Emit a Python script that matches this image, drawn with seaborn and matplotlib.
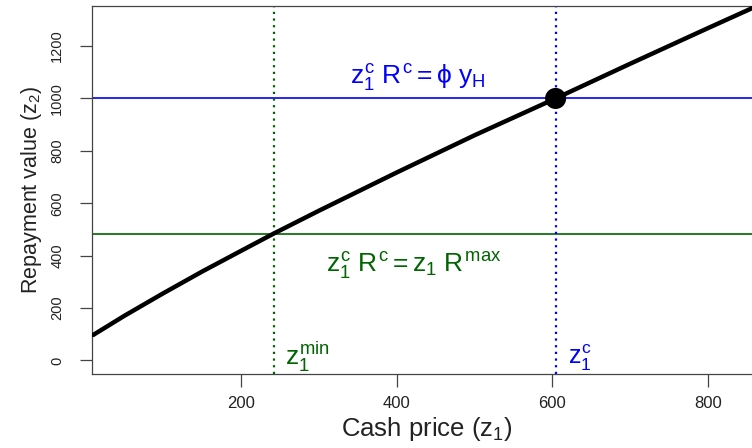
import matplotlib
matplotlib.use("Agg")
import matplotlib.pyplot as plt
import seaborn as sns
import pandas as pd

# Repayment curve: cash price z1 against repayment value z2
cash_price = [10, 50, 100, 150, 200, 242, 300, 400, 500, 604.5, 700, 800, 870]
repayment = [97, 170, 256, 339, 418, 484, 571, 717, 859, 1000, 1132, 1268, 1362]

# Reference levels
z1_min = 242
z1_c = 604.5
repay_max_level = 484   # z1^c R^c = z1 R^max
repay_phi_level = 1000  # z1^c R^c = phi y_H

x_ticks = [200, 400, 600, 800]
y_ticks = [0, 200, 400, 600, 800, 1000, 1200]

BLUE = "#0000FF"
GREEN = "#006400"
FRAME = "#444444"

sns.set_theme(style="white")
plt.rcParams["font.family"] = ["Liberation Sans", "DejaVu Sans"]
plt.rcParams["mathtext.fontset"] = "custom"
plt.rcParams["mathtext.rm"] = "Liberation Sans"
plt.rcParams["mathtext.it"] = "Liberation Sans"
plt.rcParams["mathtext.bf"] = "Liberation Sans:bold"

df = pd.DataFrame({"z1": cash_price, "z2": repayment})

fig = plt.figure(figsize=(7.52, 4.48), dpi=100)
ax = fig.add_axes([92 / 752, 1 - 374 / 448, 1 - 92 / 752, (374 - 6) / 448])

# reference lines
ax.axhline(repay_phi_level, color=BLUE, lw=1.2, zorder=1)
ax.axhline(repay_max_level, color=GREEN, lw=1.2, zorder=1)
ax.axvline(z1_min, color=GREEN, lw=1.6, linestyle=(0, (1, 2)), zorder=1)
ax.axvline(z1_c, color=BLUE, lw=1.6, linestyle=(0, (1, 2)), zorder=1)

sns.lineplot(data=df, x="z1", y="z2", ax=ax, color="black", lw=3.2, zorder=3)
sns.scatterplot(x=[z1_c], y=[repay_phi_level], ax=ax, color="black", s=230,
                edgecolor="none", zorder=4)

ax.set_xlim(8.5, 857)
ax.set_ylim(-52, 1353)
ax.set_xticks(x_ticks)
ax.set_yticks(y_ticks)
ax.set_xticklabels([str(v) for v in x_ticks], fontsize=12)
ax.set_yticklabels([str(v) for v in y_ticks], fontsize=10.5, rotation=90, va="center")
ax.tick_params(axis="both", direction="out", length=9, width=0.9, color=FRAME,
               labelcolor="#222222")
ax.tick_params(axis="y", pad=11)
ax.tick_params(axis="x", pad=7, bottom=True)
ax.tick_params(axis="y", left=True)

for side in ["left", "bottom", "top"]:
    ax.spines[side].set_color(FRAME)
    ax.spines[side].set_linewidth(0.9)
ax.spines["right"].set_visible(False)

ax.set_xlabel(r"Cash price $(\mathregular{z_1})$", fontsize=18.5, color="#222222")
ax.set_ylabel(r"Repayment value $(\mathregular{z_2})$", fontsize=15.5, color="#222222")
ax.xaxis.set_label_coords(0.5076, -0.112)
ax.yaxis.set_label_coords(-0.072, 0.5)

# annotations
ax.text(427, 1079, r"$z_1^c\ R^c = \phi\ y_H$", color=BLUE, fontsize=19,
        ha="center", va="center")
ax.text(422, 364, r"$z_1^c\ R^c = z_1\ R^{max}$", color=GREEN, fontsize=19,
        ha="center", va="center")
ax.text(256, 12, r"$z_1^{min}$", color=GREEN, fontsize=19, ha="left", va="center")
ax.text(620, 12, r"$z_1^c$", color=BLUE, fontsize=18, ha="left", va="center")

fig.savefig("out.png", dpi=100)
